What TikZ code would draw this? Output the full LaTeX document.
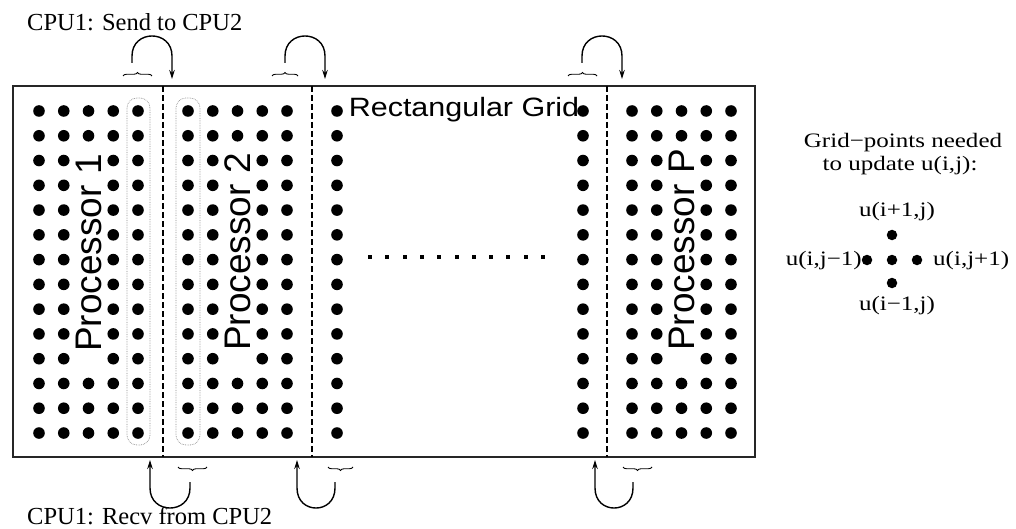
\documentclass[tikz,border=0pt]{standalone}
\usepackage{fontspec}
\setmainfont{Liberation Serif}
\newfontfamily\arialf{Liberation Sans}
\usetikzlibrary{arrows.meta,decorations.pathreplacing}
\begin{document}
\begin{tikzpicture}[x=1pt,y=-1pt,
  gridbox/.style={draw=black!85, line width=2pt, inner sep=0pt, minimum width=742pt, minimum height=371pt},
  part/.style={line width=1.2pt, dash pattern=on 6pt off 3pt},
  halo/.style={draw=black!45, line width=0.7pt, densely dotted, rounded corners=10pt},
  proc/.style={font=\arialf\fontsize{37}{40}\selectfont, rotate=90, inner sep=0pt},
  serif/.style={font=\fontsize{24.5}{28}\selectfont, inner sep=0pt},
  legend/.style={font=\fontsize{20.5}{24}\selectfont, inner sep=0pt},
  loop/.style={line width=1.4pt, -{Stealth[length=9pt,width=5.5pt]}},
  brc/.style={line width=0.9pt, decorate, decoration={brace, amplitude=3.5pt}},
  ldot/.style={circle, fill=black, inner sep=0pt, minimum size=10.5pt},
]
\useasboundingbox (0,0) rectangle (1016,529);

% outer grid
\node[gridbox] (grid) at (384,271.5) {};

% partition lines
\foreach \px/\nm in {163/d1,312/d2,607/d3}{
  \coordinate (\nm t) at (\px,86);
  \coordinate (\nm b) at (\px,457);
  \draw[part] (\nm t) -- (\nm b);
}

% full columns of grid points
\foreach \x in {39,63.75,113.25,138,188,212.75,262.25,287,337,583,632,656.75,706.25,731}{
  \foreach \i in {0,...,13}{
    \fill (\x,{111+24.77*\i}) circle[radius=5.8];
  }
}
% columns partly hidden by the processor labels
\foreach \x in {88.5,237.5,681.5}{
  \foreach \i in {0,1,11,12,13}{
    \fill (\x,{111+24.77*\i}) circle[radius=5.8];
  }
}

% ghost-cell outlines
\draw[halo] (127,98) rectangle (150,445);
\draw[halo] (176,98) rectangle (200,445);

% dotted continuation
\foreach \k in {0,...,10}{
  \fill ({370+17.3*\k-2},255) rectangle +(4,4);
}

% labels inside grid
\node[proc] (p1) at (88.5,253) {Processor 1};
\node[proc] (p2) at (237.5,252) {Processor 2};
\node[proc] (pP) at (681.5,250) {Processor P};
\node[font=\arialf\fontsize{26.5}{30}\selectfont, inner sep=0pt, anchor=base] (rg) at (464,117) {\scalebox{1.15}[1]{Rectangular Grid}};

% top labels / loops
\node[serif, anchor=base west] (send) at (27,31) {CPU1: Send to CPU2};
\node[serif, anchor=base west] (recv) at (27,524) {CPU1: Recv from CPU2};

% top braces (send regions)
\foreach \a/\b/\nm in {123/152/t1,272/298/t2,568/597/t3}{
  \draw[brc] (\a,76) -- (\b,76);
}
% top loops
\foreach \l/\r/\nm in {132/172/s1,285/325/s2,582/622/s3}{
  \coordinate (\nm a) at (\l,63);
  \coordinate (\nm b) at (\r,79);
  \draw[loop] (\nm a) -- (\l,56) .. controls (\l,29.3) and (\r,29.3) .. (\r,56) -- (\nm b);
}

% bottom braces (receive regions)
\foreach \a/\b in {178/207,328/353,623/652}{
  \draw[brc] (\b,467) -- (\a,467);
}
% bottom loops
\foreach \l/\r/\nm in {150/190/r1,297/335/r2,595/633/r3}{
  \coordinate (\nm a) at (\r,482);
  \coordinate (\nm b) at (\l,460);
  \draw[loop] (\nm a) -- (\r,488) .. controls (\r,514.7) and (\l,514.7) .. (\l,488) -- (\nm b);
}

% stencil legend
\node[legend, anchor=base] (lg1) at (903,148) {\scalebox{1.22}[1]{Grid−points needed}};
\node[legend, anchor=base] (lg2) at (900,171) {\scalebox{1.22}[1]{to update u(i,j):}};
\node[legend, anchor=base] (up) at (897,217) {\scalebox{1.22}[1]{u(i+1,j)}};
\node[legend, anchor=base] (dn) at (897,310) {\scalebox{1.22}[1]{u(i−1,j)}};
\node[legend, anchor=base east] (lf) at (862,265) {\scalebox{1.22}[1]{u(i,j−1)}};
\node[legend, anchor=base west] (rt) at (933,265) {\scalebox{1.22}[1]{u(i,j+1)}};
\node[ldot] (c0) at (892,260) {};
\node[ldot] (cn) at (892,235) {};
\node[ldot] (cs) at (892,283) {};
\node[ldot] (cw) at (867,260) {};
\node[ldot] (ce) at (917,260) {};
\end{tikzpicture}
\end{document}
